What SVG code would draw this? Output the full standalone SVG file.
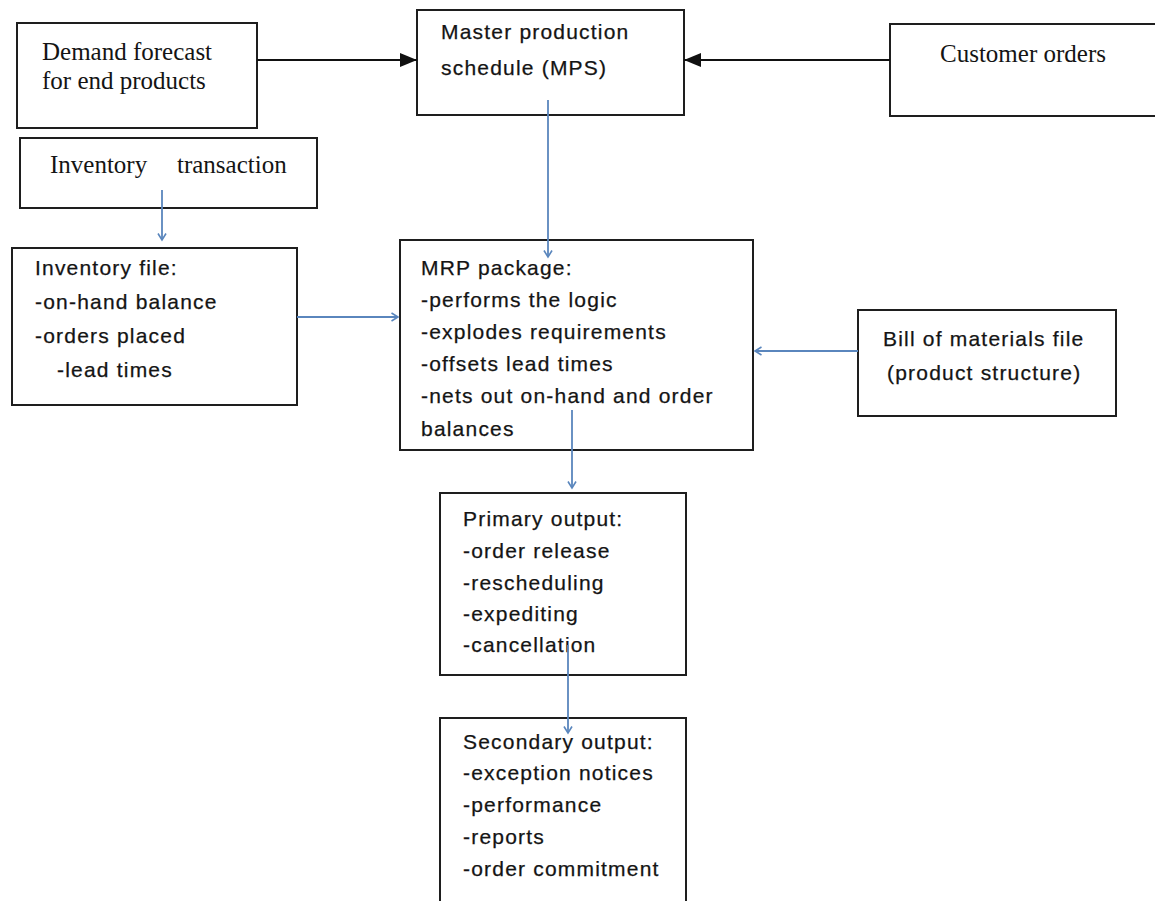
<svg xmlns="http://www.w3.org/2000/svg" width="1155" height="901" viewBox="0 0 1155 901">
  <defs>
    <marker id="blackHead" markerUnits="userSpaceOnUse" markerWidth="18" markerHeight="16" refX="17" refY="7" orient="auto">
      <path d="M0,0 L17,7 L0,14 z" fill="#111"/>
    </marker>
    <marker id="blueHead" markerUnits="userSpaceOnUse" markerWidth="10" markerHeight="12" refX="7.5" refY="5" orient="auto">
      <path d="M1,1 L7.5,5 L1,9" fill="none" stroke="#5a86bd" stroke-width="1.6"/>
    </marker>
    <style>
      .box { fill: #fff; stroke: #1e1e1e; stroke-width: 2; }
      .serif { font-family: "Liberation Serif", "Times New Roman", serif; font-size: 25px; fill: #141414; }
      .sans { font-family: "Liberation Sans", Arial, sans-serif; font-size: 21px; letter-spacing: 1.2px; fill: #141414; stroke: #141414; stroke-width: 0.25px; }
      .blk { stroke: #111; stroke-width: 1.8; fill: none; }
      .blu { stroke: #5a86bd; stroke-width: 1.8; fill: none; }
    </style>
  </defs>
  <rect width="1155" height="901" fill="#fff"/>

  <g id="demand-forecast">
    <rect class="box" x="17" y="23" width="240" height="105"/>
    <text class="serif" x="42" y="60">Demand forecast</text>
    <text class="serif" x="42" y="89">for end products</text>
  </g>

  <g id="mps">
    <rect class="box" x="417" y="10" width="267" height="105"/>
    <text class="sans" x="441" y="39">Master production</text>
    <text class="sans" x="441" y="75">schedule (MPS)</text>
  </g>

  <g id="customer-orders">
    <rect class="box" x="890" y="24" width="290" height="92"/>
    <text class="serif" x="940" y="62">Customer orders</text>
  </g>

  <g id="inventory-transaction">
    <rect class="box" x="20" y="138" width="297" height="70"/>
    <text class="serif" x="50" y="173">Inventory</text>
    <text class="serif" x="177" y="173">transaction</text>
  </g>

  <g id="inventory-file">
    <rect class="box" x="12" y="248" width="285" height="157"/>
    <text class="sans" x="35" y="275">Inventory file:</text>
    <text class="sans" x="35" y="309">-on-hand balance</text>
    <text class="sans" x="35" y="343">-orders placed</text>
    <text class="sans" x="57" y="377">-lead times</text>
  </g>

  <g id="mrp-package">
    <rect class="box" x="400" y="240" width="353" height="210"/>
    <text class="sans" x="421" y="275">MRP package:</text>
    <text class="sans" x="421" y="307">-performs the logic</text>
    <text class="sans" x="421" y="339">-explodes requirements</text>
    <text class="sans" x="421" y="371">-offsets lead times</text>
    <text class="sans" x="421" y="403">-nets out on-hand and order</text>
    <text class="sans" x="421" y="436">balances</text>
  </g>

  <g id="bill-of-materials">
    <rect class="box" x="858" y="310" width="258" height="106"/>
    <text class="sans" x="883" y="346">Bill of materials file</text>
    <text class="sans" x="887" y="380">(product structure)</text>
  </g>

  <g id="primary-output">
    <rect class="box" x="440" y="493" width="246" height="182"/>
    <text class="sans" x="463" y="526">Primary output:</text>
    <text class="sans" x="463" y="558">-order release</text>
    <text class="sans" x="463" y="590">-rescheduling</text>
    <text class="sans" x="463" y="621">-expediting</text>
    <text class="sans" x="463" y="652">-cancellation</text>
  </g>

  <g id="secondary-output">
    <rect class="box" x="440" y="718" width="246" height="200"/>
    <text class="sans" x="463" y="749">Secondary output:</text>
    <text class="sans" x="463" y="780">-exception notices</text>
    <text class="sans" x="463" y="812">-performance</text>
    <text class="sans" x="463" y="844">-reports</text>
    <text class="sans" x="463" y="876">-order commitment</text>
  </g>

  <g id="connectors">
    <line class="blk" x1="257" y1="60" x2="417" y2="60" marker-end="url(#blackHead)"/>
    <line class="blk" x1="890" y1="60" x2="684" y2="60" marker-end="url(#blackHead)"/>
    <line class="blu" x1="548" y1="100" x2="548" y2="257" marker-end="url(#blueHead)"/>
    <line class="blu" x1="162" y1="190" x2="162" y2="240" marker-end="url(#blueHead)"/>
    <line class="blu" x1="297" y1="317" x2="398" y2="317" marker-end="url(#blueHead)"/>
    <line class="blu" x1="858" y1="351" x2="755" y2="351" marker-end="url(#blueHead)"/>
    <line class="blu" x1="572" y1="410" x2="572" y2="488" marker-end="url(#blueHead)"/>
    <line class="blu" x1="568" y1="645" x2="568" y2="733" marker-end="url(#blueHead)"/>
  </g>
</svg>
